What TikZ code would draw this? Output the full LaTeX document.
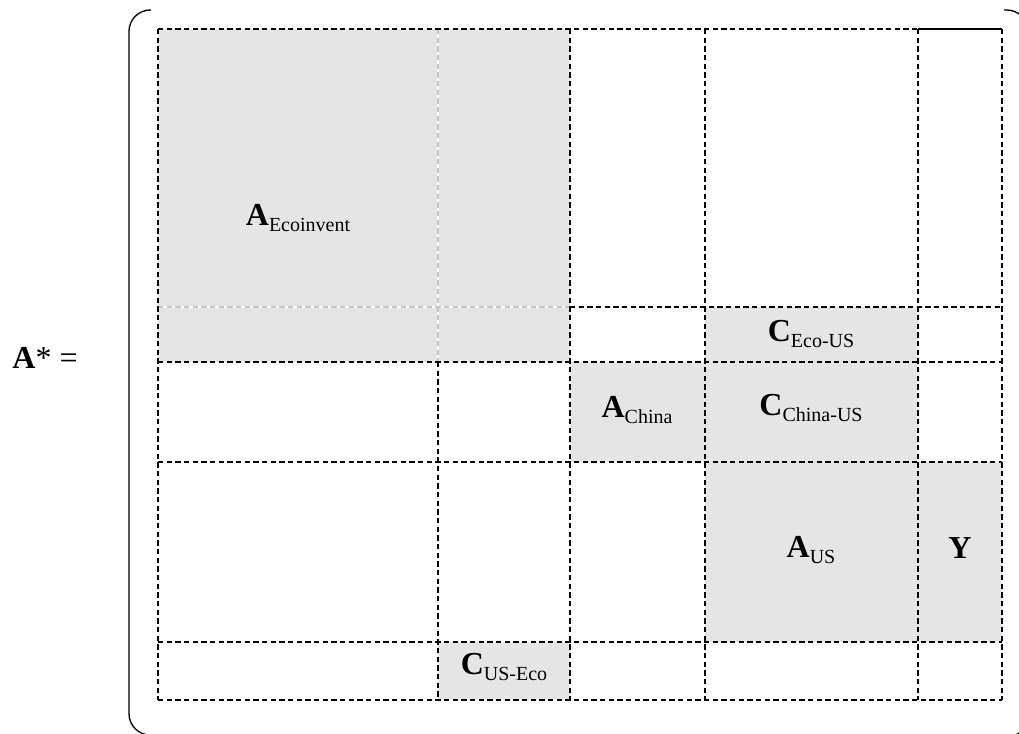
\documentclass[tikz,border=0pt]{standalone}
\usepackage{fontspec}
\setmainfont{Liberation Serif}
\newcommand\mlab[2]{\textbf{#1}\raisebox{-4pt}{\fontsize{15}{15}\selectfont #2}}
\tikzset{
  cellfill/.style={fill=gray!20, draw=none},
  gridline/.style={draw=black, line width=0.9pt, dash pattern=on 4pt off 2.5pt},
  innerline/.style={draw=gray!45, line width=0.9pt, dash pattern=on 4pt off 2.5pt},
  bracket/.style={draw=black, line width=1pt, rounded corners=16pt},
  lab/.style={font=\fontsize{24}{28}\selectfont, inner sep=0pt}
}
\begin{document}
\begin{tikzpicture}[x=0.75pt,y=-0.75pt]
\clip (0,0) rectangle (1019,733);
\fill[white] (0,0) rectangle (1019,733);
% gray cells
\fill[cellfill] (158,29) rectangle (570,362);
\fill[cellfill] (705,307) rectangle (918,462);
\fill[cellfill] (570,362) rectangle (705,462);
\fill[cellfill] (705,462) rectangle (1002,642);
\fill[cellfill] (438,642) rectangle (570,700);
% inner light lines in Ecoinvent block
\draw[white, line width=0.9pt] (438,29) -- (438,362);
\draw[innerline] (438,29) -- (438,362);
\draw[white, line width=0.9pt] (158,307) -- (570,307);
\draw[innerline] (158,307) -- (570,307);
% black dashed grid
\draw[gridline] (158,29) -- (918,29);
\draw[black, line width=0.9pt] (918,29) -- (1002,29);
\draw[gridline] (158,29) -- (158,700);
\draw[gridline] (1002,29) -- (1002,700);
\draw[gridline] (158,700) -- (1002,700);
\draw[gridline] (438,362) -- (438,700);
\draw[gridline] (570,29) -- (570,700);
\draw[gridline] (705,29) -- (705,700);
\draw[gridline] (918,29) -- (918,700);
\draw[gridline] (570,307) -- (1002,307);
\draw[gridline] (158,362) -- (1002,362);
\draw[gridline] (158,462) -- (1002,462);
\draw[gridline] (158,642) -- (1002,642);
% brackets
\draw[bracket] (151,10) -- (129,10) -- (129,735) -- (151,735);
\draw[bracket] (1004,10) -- (1028,10) -- (1028,737) -- (1004,737);
% labels
\node[lab] (astar) at (45,358) {\textbf{A}* =};
\node[lab] (aeco) at (298,218) {\mlab{A}{Ecoinvent}};
\node[lab] (cecous) at (811,334) {\mlab{C}{Eco-US}};
\node[lab] (achina) at (637,410) {\mlab{A}{China}};
\node[lab] (cchinaus) at (811,408) {\mlab{C}{China-US}};
\node[lab] (aus) at (811,550) {\mlab{A}{US}};
\node[lab] (y) at (960,548) {\textbf{Y}};
\node[lab] (cuseco) at (504,667) {\mlab{C}{US-Eco}};
\end{tikzpicture}
\end{document}
